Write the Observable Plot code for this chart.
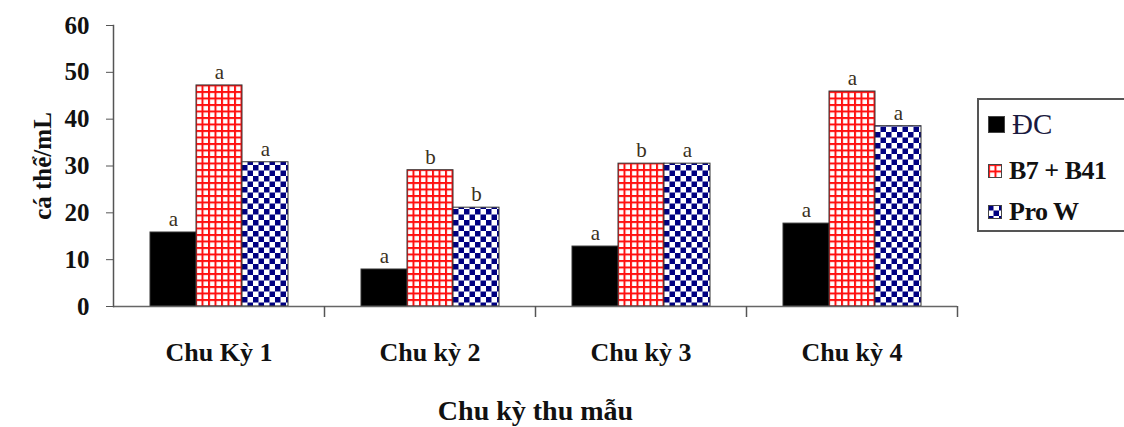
<!DOCTYPE html>
<html>
<head>
<meta charset="utf-8">
<script src="https://cdn.jsdelivr.net/npm/d3@7"></script>
<script src="https://cdn.jsdelivr.net/npm/@observablehq/plot@0.6"></script>
<style>
  html, body { margin: 0; padding: 0; background: #fff; }
  #wrap { position: relative; width: 1124px; height: 427px; overflow: hidden; font-family: 'Liberation Serif', 'Times New Roman', serif; }
  #legend { position: absolute; left: 977px; top: 98px; width: 170px; height: 134px; border: 2px solid #555; box-sizing: border-box; background: #fff; }
  .item { position: absolute; left: 9px; display: flex; align-items: center; }
  .item svg { margin-right: 7px; }
  .lab { color: #111; font-weight: bold; font-size: 26px; letter-spacing: -0.5px; }
</style>
</head>
<body>
<div id="wrap"></div>
<script>
// ---- data ----
const groups = ["Chu Kỳ 1", "Chu kỳ 2", "Chu kỳ 3", "Chu kỳ 4"];
const series = ["ĐC", "B7 + B41", "Pro W"];
const valuesDC  = [15.8, 7.9, 12.8, 17.7];
const valuesB7  = [47.2, 29.1, 30.5, 45.9];
const valuesPro = [30.8, 21.1, 30.5, 38.5];
const lettersDC  = ["a", "a", "a", "a"];
const lettersB7  = ["a", "b", "b", "a"];
const lettersPro = ["a", "b", "a", "a"];
const yTicks = [0, 10, 20, 30, 40, 50, 60];
const xTitle = "Chu kỳ thu mẫu";
const yTitle = "cá thể/mL";

const seriesFill = {"ĐC": "#000000", "B7 + B41": "url(#gridRed)", "Pro W": "url(#checkBlue)"};
const valueLists = [valuesDC, valuesB7, valuesPro];
const letterLists = [lettersDC, lettersB7, lettersPro];

const data = [];
groups.forEach((g, gi) => series.forEach((s, si) => {
  data.push({group: g, series: s, value: valueLists[si][gi], letter: letterLists[si][gi]});
}));

// ---- layout ----
const W = 1124, H = 427;
const mL = 113, mR = 167, mT = 25, mB = 121;
const bandW = (W - mL - mR) / groups.length;
const font = "'Liberation Serif', 'Times New Roman', serif";

const chart = Plot.plot({
  width: W, height: H,
  marginLeft: mL, marginRight: mR, marginTop: mT, marginBottom: mB,
  style: {fontFamily: font, background: "#fff", color: "#111", overflow: "visible"},
  fx: {domain: groups, padding: 0, axis: null},
  x: {domain: series, paddingInner: 0, paddingOuter: 0.745, axis: null},
  y: {domain: [0, 60], axis: null},
  color: {type: "identity"},
  marks: [
    Plot.barY(data, {fx: "group", x: "series", y: "value", fill: d => seriesFill[d.series], stroke: "#333", strokeWidth: 1}),
    Plot.text(data, {fx: "group", x: "series", y: "value", text: "letter", dy: -13, fontSize: 21, fill: "#3a3020"}),
    Plot.ruleY([0], {stroke: "#666", strokeWidth: 1.5}),
    Plot.frame({anchor: "left", facetAnchor: "left", stroke: "#555", strokeWidth: 1.5}),
    Plot.axisY({ticks: yTicks, tickSize: 7, tickPadding: 17, fontSize: 25, fontWeight: "bold", stroke: "#555",
      label: yTitle, labelAnchor: "center", labelOffset: 80, labelArrow: "none"}),
    Plot.axisFx({anchor: "bottom", tickSize: 11, tickFormat: () => "", label: null, dx: bandW / 2, stroke: "#555", strokeWidth: 1.5}),
    Plot.axisFx({anchor: "bottom", tickSize: 0, tickPadding: 36, fontSize: 26, fontWeight: "bold", label: null}),
    Plot.axisFx({anchor: "bottom", tickSize: 0, tickFormat: () => "", fontSize: 28, fontWeight: "bold",
      label: xTitle, labelAnchor: "center", labelOffset: 113, labelArrow: "none"})
  ]
});

const svgEl = chart.tagName.toLowerCase() === "svg" ? chart : chart.querySelector("svg");
const svg = d3.select(svgEl);
const defs = svg.insert("defs", ":first-child");
const pr = defs.append("pattern").attr("id", "gridRed").attr("patternUnits", "userSpaceOnUse")
  .attr("width", 6.5).attr("height", 6.5);
pr.append("rect").attr("width", 6.5).attr("height", 6.5).attr("fill", "#fff");
pr.append("rect").attr("x", 0).attr("y", 0).attr("width", 2).attr("height", 6.5).attr("fill", "#ff1010");
pr.append("rect").attr("x", 0).attr("y", 0).attr("width", 6.5).attr("height", 2).attr("fill", "#ff1010");
const pb = defs.append("pattern").attr("id", "checkBlue").attr("patternUnits", "userSpaceOnUse")
  .attr("width", 11).attr("height", 11);
pb.append("rect").attr("width", 11).attr("height", 11).attr("fill", "#fff");
pb.append("rect").attr("x", 0).attr("y", 0).attr("width", 5.5).attr("height", 5.5).attr("fill", "#000080");
pb.append("rect").attr("x", 5.5).attr("y", 5.5).attr("width", 5.5).attr("height", 5.5).attr("fill", "#000080");

const wrap = document.getElementById("wrap");
wrap.appendChild(chart);

// ---- legend ----
const legend = document.createElement("div");
legend.id = "legend";
const tops = [8, 56, 97];
series.forEach((s, i) => {
  const it = document.createElement("div");
  it.className = "item";
  it.style.top = tops[i] + "px";
  const sw = i === 0 ? 17 : 14;
  it.innerHTML = `<svg width="${sw}" height="${sw}"><rect x="0.5" y="0.5" width="${sw-1}" height="${sw-1}" fill="${seriesFill[s]}" stroke="#444" stroke-width="1"/></svg>` +
    `<span class="lab" style="${i === 0 ? 'font-weight:normal;font-size:29px;color:#1a1a40;letter-spacing:0' : ''}">${s}</span>`;
  legend.appendChild(it);
});
wrap.appendChild(legend);
</script>
</body>
</html>
